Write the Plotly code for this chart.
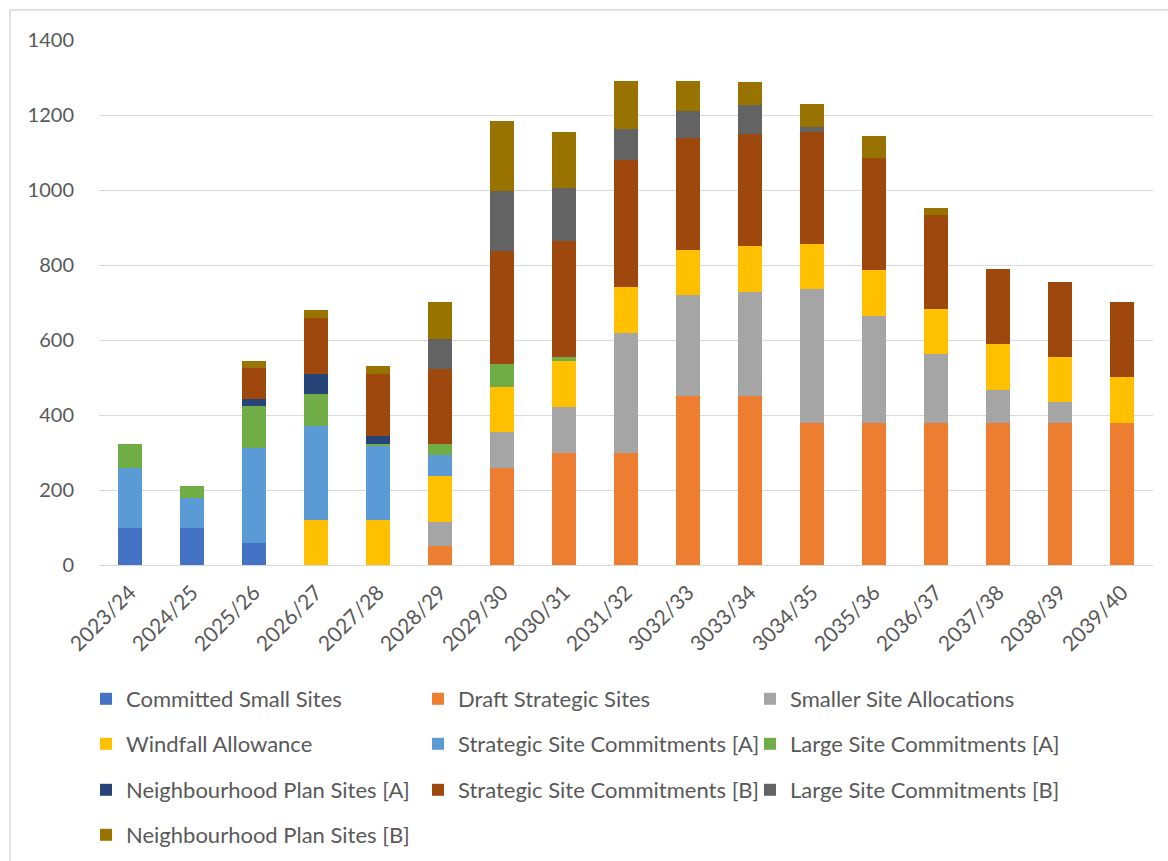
import plotly.graph_objects as go

# Monitoring years (labels as published)
years = ["2023/24", "2024/25", "2025/26", "2026/27", "2027/28", "2028/29", "2029/30",
         "2030/31", "2031/32", "3032/33", "3033/34", "3034/35", "2035/36", "2036/37",
         "2037/38", "2038/39", "2039/40"]

# Dwellings per year by supply source (stacked bottom to top)
committed_small_sites = [100, 100, 58, 0, 0, 0, 0, 0, 0, 0, 0, 0, 0, 0, 0, 0, 0]
draft_strategic_sites = [0, 0, 0, 0, 0, 50, 260, 300, 300, 450, 450, 380, 380, 380, 380, 380, 380]
smaller_site_allocations = [0, 0, 0, 0, 0, 66, 94, 122, 320, 269, 279, 355, 285, 182, 88, 54, 0]
windfall_allowance = [0, 0, 0, 120, 120, 121, 121, 121, 121, 121, 121, 121, 121, 121, 121, 121, 121]
strategic_commitments_a = [160, 78, 253, 252, 198, 57, 0, 0, 0, 0, 0, 0, 0, 0, 0, 0, 0]
large_commitments_a = [62, 34, 113, 84, 5, 28, 62, 12, 0, 0, 0, 0, 0, 0, 0, 0, 0]
neighbourhood_plan_a = [0, 0, 20, 54, 20, 0, 0, 0, 0, 0, 0, 0, 0, 0, 0, 0, 0]
strategic_commitments_b = [0, 0, 82, 150, 166, 200, 300, 310, 340, 300, 300, 300, 300, 250, 200, 200, 200]
large_commitments_b = [0, 0, 0, 0, 0, 82, 160, 140, 83, 70, 77, 13, 0, 0, 0, 0, 0]
neighbourhood_plan_b = [0, 0, 19, 20, 23, 98, 186, 150, 126, 82, 60, 60, 58, 20, 0, 0, 0]

series = [
    ("Committed Small Sites", committed_small_sites, "#4472C4", "legend"),
    ("Draft Strategic Sites", draft_strategic_sites, "#ED7D31", "legend"),
    ("Smaller Site Allocations", smaller_site_allocations, "#A5A5A5", "legend"),
    ("Windfall Allowance", windfall_allowance, "#FFC000", "legend2"),
    ("Strategic Site Commitments [A]", strategic_commitments_a, "#5B9BD5", "legend2"),
    ("Large Site Commitments [A]", large_commitments_a, "#70AD47", "legend2"),
    ("Neighbourhood Plan Sites [A]", neighbourhood_plan_a, "#264478", "legend3"),
    ("Strategic Site Commitments [B]", strategic_commitments_b, "#9E480E", "legend3"),
    ("Large Site Commitments [B]", large_commitments_b, "#636363", "legend3"),
    ("Neighbourhood Plan Sites [B]", neighbourhood_plan_b, "#997300", "legend4"),
]

FONT = "Lato, 'Open Sans', sans-serif"
TEXT = "#595959"
GRID = "#D9D9D9"

fig = go.Figure()
for name, vals, color, leg in series:
    fig.add_trace(go.Bar(
        x=years, y=vals, name=name, legend=leg,
        marker=dict(color=color, line=dict(width=0)),
    ))

W, H = 1168, 861
ml, mr, mt, mb = 99, 15, 40, 296
pw, ph = W - ml - mr, H - mt - mb

def px_x(x):
    return (x - ml) / pw

def px_y(y):
    return (H - mb - y) / ph

legend_style = dict(
    orientation="h", xanchor="left", yanchor="middle",
    xref="container", yref="container",
    entrywidth=287, entrywidthmode="pixels",
    font=dict(family=FONT, size=22, color=TEXT),
    bgcolor="rgba(0,0,0,0)", itemclick=False, traceorder="normal",
)
legend_x = 86 / W
rows_y = [699, 744, 790, 835]

fig.update_layout(
    width=W, height=H,
    margin=dict(l=ml, r=mr, t=mt, b=mb, autoexpand=False),
    barmode="stack", bargap=0.6,
    plot_bgcolor="white", paper_bgcolor="white",
    font=dict(family=FONT, color=TEXT),
    xaxis=dict(
        tickangle=-45, tickfont=dict(family=FONT, size=21, color=TEXT),
        showline=True, linecolor=GRID, linewidth=1, showgrid=False,
        ticks="", ticklabelstandoff=6, fixedrange=True, automargin=False,
    ),
    yaxis=dict(
        range=[0, 1400], dtick=200, showgrid=True, gridcolor=GRID, gridwidth=1,
        zeroline=False, tickfont=dict(family=FONT, size=20, color=TEXT),
        ticks="", ticklabelstandoff=24, fixedrange=True, automargin=False,
    ),
    legend=dict(x=legend_x, y=1 - rows_y[0] / H, **legend_style),
    legend2=dict(x=legend_x, y=1 - rows_y[1] / H, **legend_style),
    legend3=dict(x=legend_x, y=1 - rows_y[2] / H, **legend_style),
    legend4=dict(x=legend_x, y=1 - rows_y[3] / H, **legend_style),
    shapes=[dict(
        type="rect", xref="paper", yref="paper", layer="below",
        x0=px_x(10), x1=px_x(W + 20), y0=px_y(H + 20), y1=px_y(10),
        line=dict(color=GRID, width=1.5), fillcolor="rgba(0,0,0,0)",
    )],
)

fig.write_html("out.html")
